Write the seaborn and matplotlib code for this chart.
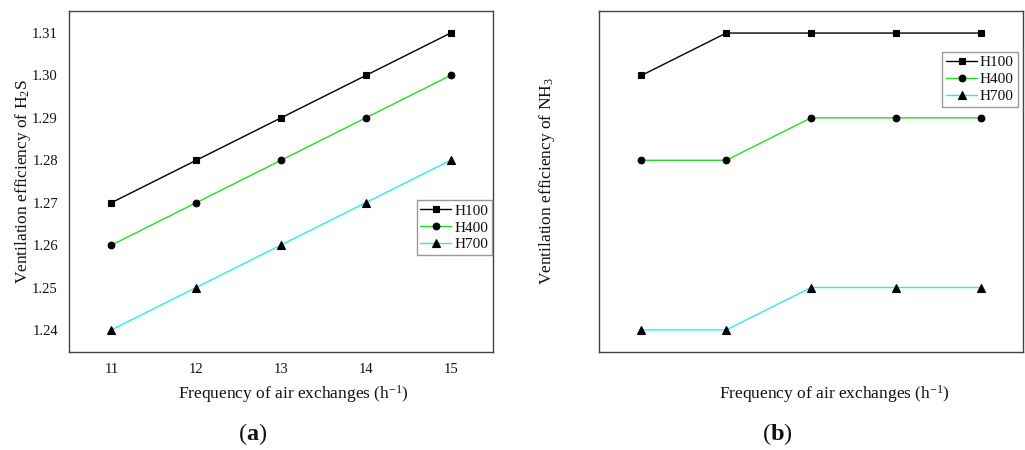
import numpy as np
import pandas as pd
import seaborn as sns
import matplotlib.pyplot as plt

# data
air_exchanges = [11, 12, 13, 14, 15]
series_names = ['H100', 'H400', 'H700']
h2s_h100 = [1.27, 1.28, 1.29, 1.30, 1.31]
h2s_h400 = [1.26, 1.27, 1.28, 1.29, 1.30]
h2s_h700 = [1.24, 1.25, 1.26, 1.27, 1.28]
nh3_h100 = [1.30, 1.31, 1.31, 1.31, 1.31]
nh3_h400 = [1.28, 1.28, 1.29, 1.29, 1.29]
nh3_h700 = [1.24, 1.24, 1.25, 1.25, 1.25]

line_colors = {'H100': '#000000', 'H400': '#22dd22', 'H700': '#22eeee'}
markers = {'H100': 's', 'H400': 'o', 'H700': '^'}

sns.set_style('white')
plt.rcParams['font.family'] = ['Liberation Serif', 'DejaVu Serif']
plt.rcParams['text.color'] = '#111111'
plt.rcParams['axes.labelcolor'] = '#111111'
plt.rcParams['xtick.color'] = '#111111'
plt.rcParams['ytick.color'] = '#111111'
plt.rcParams['mathtext.fontset'] = 'custom'
plt.rcParams['mathtext.rm'] = 'Liberation Serif'
plt.rcParams['mathtext.it'] = 'Liberation Serif:italic'
plt.rcParams['mathtext.bf'] = 'Liberation Serif:bold'


def long_frame(h100, h400, h700):
    rows = []
    for name, vals in zip(series_names, [h100, h400, h700]):
        for x, v in zip(air_exchanges, vals):
            rows.append({'x': x, 'y': v, 'series': name})
    return pd.DataFrame(rows)


def draw_panel(ax, df):
    for name in series_names:
        sub = df[df['series'] == name]
        ms = 5.5 if name == 'H700' else 4.8
        sns.lineplot(data=sub, x='x', y='y', ax=ax, color=line_colors[name],
                     marker=markers[name], markersize=ms, markerfacecolor='black',
                     markeredgecolor='black', markeredgewidth=0.8,
                     linewidth=1.0, label=name)
    ax.set_xlim(10.5, 15.5)
    ax.set_ylim(1.2348, 1.3152)
    for sp in ax.spines.values():
        sp.set_color('#444444')
        sp.set_linewidth(1.0)
    ax.tick_params(length=0, labelsize=10.5, pad=8)


fig = plt.figure(figsize=(10.25, 4.5), dpi=100)
ax1 = fig.add_axes([69 / 1025, 1 - 352 / 450, (493 - 69) / 1025, (352 - 11) / 450])
ax2 = fig.add_axes([599 / 1025, 1 - 352 / 450, (1023 - 599) / 1025, (352 - 11) / 450])

df_a = long_frame(h2s_h100, h2s_h400, h2s_h700)
df_b = long_frame(nh3_h100, nh3_h400, nh3_h700)

legend_kw = dict(fontsize=11, frameon=True, fancybox=False, edgecolor='#999999',
                 borderpad=0.25, labelspacing=0.2, handlelength=2.0,
                 handletextpad=0.2, borderaxespad=0, framealpha=1)

draw_panel(ax1, df_a)
ax1.set_xticks(air_exchanges)
ax1.set_yticks([1.24, 1.25, 1.26, 1.27, 1.28, 1.29, 1.30, 1.31])
ax1.set_yticklabels(['1.24', '1.25', '1.26', '1.27', '1.28', '1.29', '1.30', '1.31'])
ax1.set_xlabel('Frequency of air exchanges (h$^{-1}$)', fontsize=12.5)
ax1.set_ylabel('Ventilation efficiency of H$_2$S', fontsize=12.5)
ax1.xaxis.set_label_coords(0.53, -0.09)
ax1.yaxis.set_label_coords(-0.085, 0.5)
ax1.legend(loc='upper left', bbox_to_anchor=(0.82, 0.445), **legend_kw)

draw_panel(ax2, df_b)
ax2.set_xticks([])
ax2.set_yticks([])
ax2.set_xlabel('Frequency of air exchanges (h$^{-1}$)', fontsize=12.5)
ax2.set_ylabel('Ventilation efficiency of NH$_3$', fontsize=12.5)
ax2.xaxis.set_label_coords(0.555, -0.09)
ax2.yaxis.set_label_coords(-0.1, 0.5)
ax2.legend(loc='upper left', bbox_to_anchor=(0.81, 0.88), **legend_kw)

fig.text(253 / 1025, 1 - 434 / 450, '($\\mathbf{a}$)', fontsize=17.5, ha='center', va='center')
fig.text(777 / 1025, 1 - 434 / 450, '($\\mathbf{b}$)', fontsize=17.5, ha='center', va='center')

fig.savefig('out.png', dpi=100)
